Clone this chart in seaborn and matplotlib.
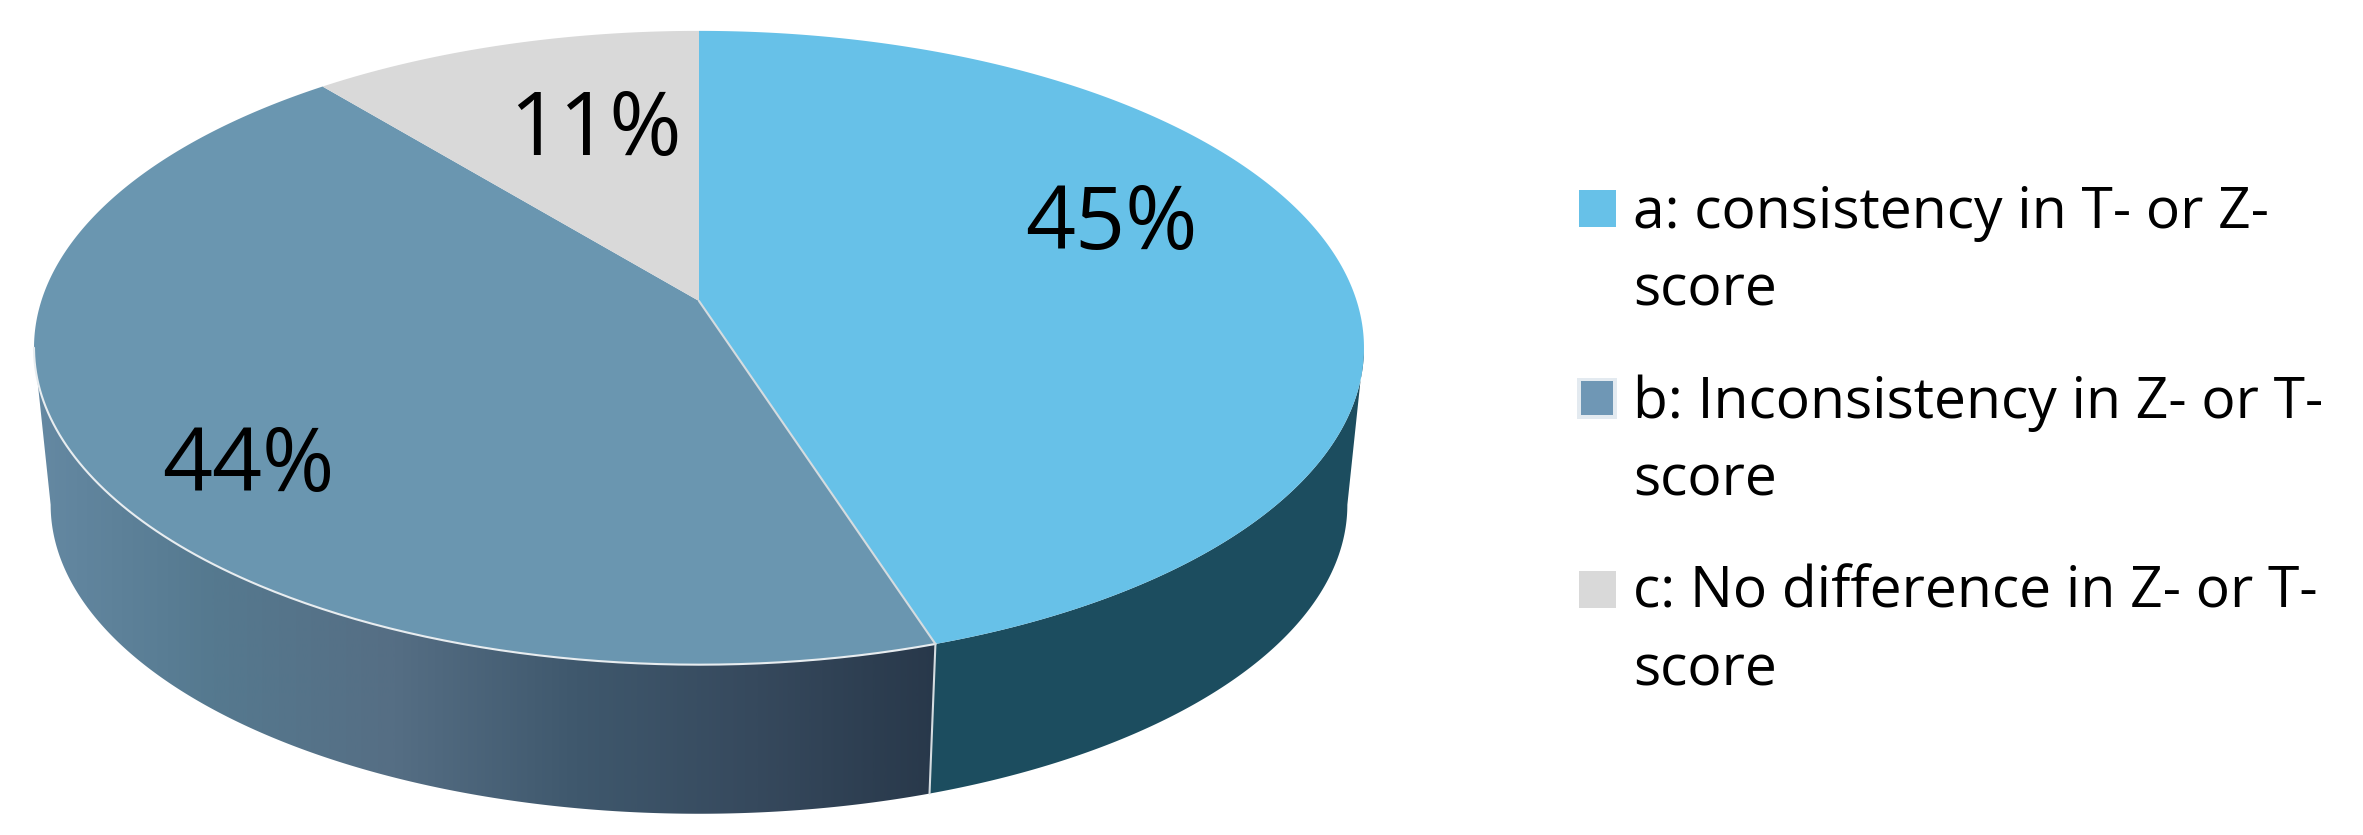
import numpy as np
import pandas as pd
import matplotlib.pyplot as plt
from matplotlib.patches import Rectangle
import seaborn as sns

categories = ['a', 'b', 'c']
values = [45, 44, 11]
pct_labels = ['45%', '44%', '11%']
legend_lines = [
    ['a: consistency in T- or Z-', 'score'],
    ['b: Inconsistency in Z- or T-', 'score'],
    ['c: No difference in Z- or T-', 'score'],
]
top_colors = ['#67C1E8', '#6A96B0', '#D9D9D9']
side_blue = '#1C4D5F'
side_stops = ['#6589A3', '#55798F', '#556E84', '#3F586D', '#36495D', '#28384A']

df = pd.DataFrame({'cat': categories, 'val': values, 'label': pct_labels})
df['end'] = df['val'].cumsum() / df['val'].sum() * 2 * np.pi
df['start'] = df['end'].shift(1, fill_value=0)

# perspective of the disc, in pixels
CX, CY = 699, 301
A, B, K = 657.7, 310, 0.1476
SHRINK, VY = 0.975, 6628

# angles where the disc is widest, only the part between them faces the viewer
T_RIGHT = np.arccos(-K)
T_LEFT = 2 * np.pi - T_RIGHT


def top_xy(t):
    x, y = np.sin(t), np.cos(t)
    w = 1 + K * y
    return CX + A * x / w, CY - B * y / w


def bottom_xy(t):
    x, y = top_xy(t)
    return CX + SHRINK * (x - CX), VY + SHRINK * (y - VY)


sns.set_theme(style='white')
plt.rcParams['font.family'] = ['Open Sans', 'DejaVu Sans']

fig = plt.figure(figsize=(23.63, 8.35), dpi=100)
ax = fig.add_axes([0, 0, 1, 1])

# sides first, the top covers whatever is behind
for i, row in df.iterrows():
    t0 = max(row['start'], T_RIGHT)
    t1 = min(row['end'], T_LEFT)
    if t0 >= t1:
        continue
    t = np.linspace(t0, t1, 300)
    xt, yt = top_xy(t)
    xb, yb = bottom_xy(t)
    xs = np.r_[xt, xb[::-1]]
    ys = np.r_[yt, yb[::-1]]
    if row['cat'] == 'a':
        ax.fill(xs, ys, color=side_blue, lw=0)
    elif row['cat'] == 'b':
        poly = ax.fill(xs, ys, color='none', lw=0)[0]
        cmap = sns.blend_palette(side_stops, 256, as_cmap=True)
        im = ax.imshow(np.linspace(0, 1, 512).reshape(1, -1), cmap=cmap, aspect='auto',
                       extent=[30, 940, 835, 0], zorder=1)
        im.set_clip_path(poly)

for i, row in df.iterrows():
    t = np.linspace(row['start'], row['end'], 300)
    xt, yt = top_xy(t)
    ax.fill(np.r_[CX, xt], np.r_[CY, yt], color=top_colors[i], lw=0, zorder=2)

# thin light seams round the front of b
b = df[df['cat'] == 'b'].iloc[0]
t = np.linspace(b['start'], T_LEFT, 200)
xt, yt = top_xy(t)
ax.plot(xt, yt, color='#E8EDF0', lw=1.5, zorder=3)
x0, y0 = top_xy(b['start'])
x1, y1 = bottom_xy(b['start'])
ax.plot([CX, x0], [CY, y0], color='#D5DCE0', lw=1.5, zorder=3)
ax.plot([x0, x1], [y0, y1], color='#D5DCE0', lw=1.5, zorder=3)

# percentage labels
label_pos = {'a': (1111, 216), 'b': (248, 457), 'c': (595, 121)}
for _, row in df.iterrows():
    lx, ly = label_pos[row['cat']]
    ax.text(lx, ly, row['label'], fontsize=63, color='black', ha='center', va='center_baseline')

# legend
swatch_y = [190, 381, 571]
baselines = [228, 418, 607]
for i in range(3):
    if i == 1:
        ax.add_patch(Rectangle((1577, swatch_y[i] - 3), 40, 41, fc='#E3EAF0', ec='none'))
        ax.add_patch(Rectangle((1581, swatch_y[i]), 32, 34, fc='#6F97B5', ec='none'))
    else:
        ax.add_patch(Rectangle((1579, swatch_y[i]), 37, 37, fc=top_colors[i], ec='none'))
    for j, line in enumerate(legend_lines[i]):
        ax.text(1633, baselines[i] + j * 78, line, fontsize=41, color='black', va='baseline')

ax.set_xlim(0, 2363)
ax.set_ylim(835, 0)
ax.axis('off')
fig.savefig('out.png', dpi=100, facecolor='white')
